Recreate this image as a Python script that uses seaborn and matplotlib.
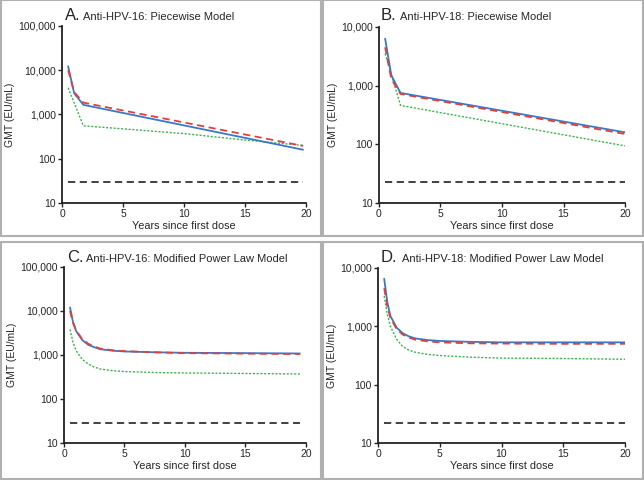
import numpy as np
import pandas as pd
import seaborn as sns
import matplotlib.pyplot as plt
from matplotlib.ticker import FixedLocator, NullLocator
from matplotlib.patches import Rectangle

# panel A: anti-HPV-16, piecewise model
a_x_blue = [0.5, 1.0, 1.75, 19.75]
a_blue = [12300, 3000, 1650, 160]
a_x_red = [0.5, 1.0, 1.75, 19.75]
a_red = [10000, 3200, 1850, 195]
a_x_green = [0.5, 1.75, 10, 15, 19.75]
a_green = [4000, 555, 370, 265, 200]
a_cut = 30

# panel B: anti-HPV-18, piecewise model
b_x_blue = [0.5, 1.0, 1.75, 20]
b_blue = [6300, 1500, 750, 160]
b_x_red = [0.5, 1.0, 1.75, 20]
b_red = [4500, 1300, 720, 150]
b_x_green = [0.5, 1.75, 20]
b_green = [3500, 460, 94]
b_cut = 23

# panel C: anti-HPV-16, modified power law
c_x = [0.5, 0.75, 1.0, 1.5, 2.0, 2.5, 3.0, 4.0, 5.0, 7.5, 10, 15, 19.5]
c_blue = [12000, 5500, 3500, 2200, 1700, 1500, 1350, 1250, 1200, 1150, 1120, 1100, 1080]
c_red = [10000, 5300, 3600, 2300, 1800, 1550, 1400, 1280, 1220, 1150, 1100, 1070, 1050]
c_green = [3800, 1900, 1250, 800, 620, 530, 480, 440, 420, 400, 390, 380, 370]
c_cut = 29

# panel D: anti-HPV-18, modified power law
d_x = [0.5, 0.75, 1.0, 1.5, 2.0, 2.5, 3.0, 4.0, 5.0, 7.5, 10, 15, 20]
d_blue = [6500, 2600, 1500, 950, 760, 670, 620, 580, 560, 540, 530, 530, 530]
d_red = [4500, 2200, 1400, 900, 720, 640, 590, 550, 530, 510, 505, 500, 500]
d_green = [3300, 1600, 1000, 600, 450, 390, 360, 330, 315, 295, 285, 280, 272]
d_cut = 22

panels = [
    ("A.", "Anti-HPV-16: Piecewise Model", (a_x_blue, a_blue), (a_x_red, a_red), (a_x_green, a_green), a_cut, 19.75, 5),
    ("B.", "Anti-HPV-18: Piecewise Model", (b_x_blue, b_blue), (b_x_red, b_red), (b_x_green, b_green), b_cut, 20, 4),
    ("C.", "Anti-HPV-16: Modified Power Law Model", (c_x, c_blue), (c_x, c_red), (c_x, c_green), c_cut, 19.5, 5),
    ("D.", "Anti-HPV-18: Modified Power Law Model", (d_x, d_blue), (d_x, d_red), (d_x, d_green), d_cut, 20, 4),
]

sns.set_style("ticks")
plt.rcParams['font.family'] = ['Liberation Sans', 'DejaVu Sans']

fig = plt.figure(figsize=(6.44, 4.8), dpi=100)

# panel frames
for (x0, y0) in [(0, 0.505), (0.5, 0.505), (0, 0), (0.5, 0)]:
    fig.patches.append(Rectangle((x0 + 0.002, y0 + 0.003), 0.496, 0.492, transform=fig.transFigure,
                                 fill=False, edgecolor="#b0b0b0", linewidth=1.5))

rects = [
    [0.0963, 0.577, 0.379, 0.369],
    [0.5885, 0.577, 0.382, 0.367],
    [0.0994, 0.077, 0.3756, 0.367],
    [0.587, 0.077, 0.3835, 0.365],
]
title_pos = [(65, 83, 20), (381, 400, 20), (67, 86, 262), (381, 402, 262)]

for (letter, title, blue, red, green, cut, xend, ndec), rect, tp in zip(panels, rects, title_pos):
    ax = fig.add_axes(rect)
    sns.lineplot(x=green[0], y=green[1], ax=ax, color="#3cb44b", linestyle=(0, (1.5, 1.2)), linewidth=1.0)
    sns.lineplot(x=blue[0], y=blue[1], ax=ax, color="#3a78c8", linewidth=1.3)
    sns.lineplot(x=red[0], y=red[1], ax=ax, color="#e0403a", linestyle=(0, (4, 2.5)), linewidth=1.3)
    sns.lineplot(x=[0.5, xend], y=[cut, cut], ax=ax, color="#333333", linestyle=(0, (4, 2.5)), linewidth=1.3)
    ax.set_yscale("log")
    ax.set_xlim(0, 20)
    ax.set_ylim(10, 10 ** ndec)
    ticks = [10 ** k for k in range(1, ndec + 1)]
    ax.yaxis.set_major_locator(FixedLocator(ticks))
    ax.yaxis.set_minor_locator(NullLocator())
    ax.set_yticklabels([f"{t:,}" for t in ticks])
    ax.set_xticks([0, 5, 10, 15, 20])
    ax.tick_params(labelsize=7.5, length=3, width=1, color="#222222", pad=1.5)
    for s in ["left", "bottom"]:
        ax.spines[s].set_linewidth(1.3)
        ax.spines[s].set_color("#222222")
    sns.despine(ax=ax)
    ax.set_xlabel("Years since first dose", fontsize=7.8, labelpad=1)
    ax.set_ylabel("GMT (EU/mL)", fontsize=7.5, labelpad=2)
    fig.text(tp[0] / 644, 1 - tp[2] / 480, letter, fontsize=12, va="baseline")
    fig.text(tp[1] / 644, 1 - tp[2] / 480, title, fontsize=8, va="baseline")

fig.savefig("out.png", dpi=100)
